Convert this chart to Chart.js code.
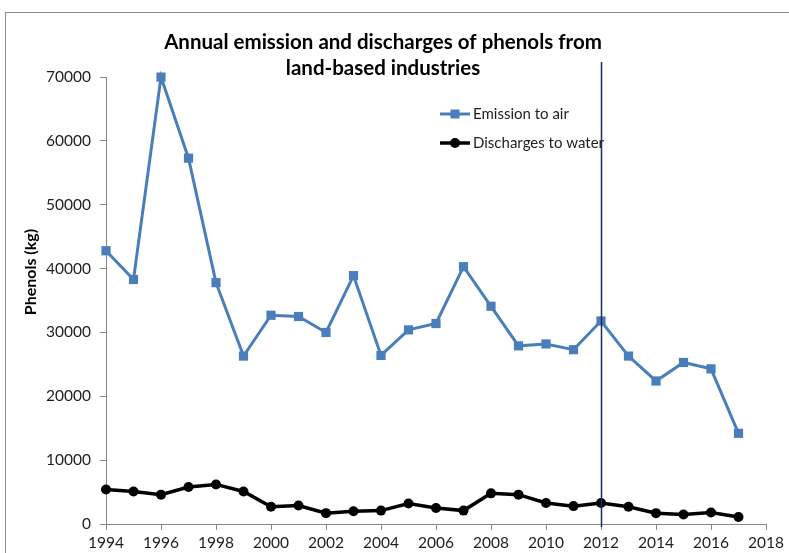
<!DOCTYPE html>
<html>
<head>
<meta charset="utf-8">
<title>Annual emission and discharges of phenols</title>
<script src="https://cdn.jsdelivr.net/npm/chart.js@4/dist/chart.umd.min.js"></script>
<style>
  html, body { margin: 0; padding: 0; background: #ffffff; overflow: hidden; }
  #frame {
    position: absolute; left: 5px; top: 12px; width: 900px; height: 700px;
    border: 1px solid #8c8c8c; box-sizing: border-box;
  }
  #wrap { position: absolute; left: 0; top: 0; width: 789px; height: 553px; }
</style>
</head>
<body>
<div id="frame"></div>
<div id="wrap"><canvas id="chart" width="789" height="553"></canvas></div>
<script>
// Years reported and yearly totals of phenols (kg)
const years = [1994, 1995, 1996, 1997, 1998, 1999, 2000, 2001, 2002, 2003, 2004, 2005,
               2006, 2007, 2008, 2009, 2010, 2011, 2012, 2013, 2014, 2015, 2016, 2017];
const emissionToAir = [42800, 38300, 70000, 57300, 37800, 26300, 32700, 32500, 30000, 38900, 26400, 30400,
                       31400, 40300, 34100, 27900, 28200, 27300, 31800, 26300, 22400, 25300, 24300, 14200];
const dischargesToWater = [5400, 5100, 4600, 5800, 6200, 5100, 2700, 2900, 1700, 2000, 2100, 3200,
                           2500, 2100, 4800, 4600, 3300, 2800, 3300, 2700, 1700, 1500, 1800, 1100];
const seriesNames = ['Emission to air', 'Discharges to water'];
const titleLines = ['Annual emission and discharges of phenols from', 'land-based industries'];
const yAxisTitle = 'Phenols (kg)';
const markerYear = 2012;

const FONT = 'Lato, "Open Sans", sans-serif';
const AXIS_GREY = '#868686';
const TEXT = '#1e1e1e';

function points(values) {
  return years.map((y, i) => ({ x: y, y: values[i] }));
}

// Vertical reference line at the marker year, plus the rotated y-axis caption
const overlay = {
  id: 'overlay',
  afterDatasetsDraw(chart) {
    const { ctx, chartArea, scales } = chart;
    const x = Math.round(scales.x.getPixelForValue(markerYear)) + 0.5;
    ctx.save();
    ctx.strokeStyle = '#1f2a66';
    ctx.lineWidth = 1.5;
    ctx.beginPath();
    ctx.moveTo(x, chartArea.top - 15);
    ctx.lineTo(x, chartArea.bottom + 3);
    ctx.stroke();
    ctx.restore();

    ctx.save();
    ctx.translate(31, chartArea.top + 195);
    ctx.rotate(-Math.PI / 2);
    ctx.font = 'bold 16px ' + FONT;
    ctx.fillStyle = '#000000';
    ctx.textAlign = 'center';
    ctx.textBaseline = 'middle';
    ctx.fillText(yAxisTitle, 0, 0);
    ctx.restore();
  }
};

// Line-with-marker legend placed inside the plot
const insideLegend = {
  id: 'insideLegend',
  afterDraw(chart) {
    const { ctx } = chart;
    const x0 = 440, x1 = 470, rowY = [114, 143];
    chart.data.datasets.forEach((ds, i) => {
      const y = rowY[i];
      ctx.save();
      ctx.strokeStyle = ds.borderColor;
      ctx.lineWidth = ds.borderWidth;
      ctx.beginPath();
      ctx.moveTo(x0, y);
      ctx.lineTo(x1, y);
      ctx.stroke();
      ctx.fillStyle = ds.pointBackgroundColor;
      const cx = (x0 + x1) / 2;
      if (ds.pointStyle === 'rect') {
        ctx.fillRect(cx - 4.5, y - 4.5, 9, 9);
      } else {
        ctx.beginPath();
        ctx.arc(cx, y, 5, 0, Math.PI * 2);
        ctx.fill();
      }
      ctx.font = '15px ' + FONT;
      ctx.fillStyle = TEXT;
      ctx.textAlign = 'left';
      ctx.textBaseline = 'middle';
      ctx.fillText(ds.label, x1 + 3, y);
      ctx.restore();
    });
  }
};

new Chart(document.getElementById('chart'), {
  type: 'line',
  data: {
    datasets: [
      {
        label: seriesNames[0],
        data: points(emissionToAir),
        borderColor: '#4a7ebb',
        backgroundColor: '#4a7ebb',
        pointBackgroundColor: '#4a7ebb',
        pointBorderColor: '#4a7ebb',
        pointBorderWidth: 0,
        borderWidth: 3,
        pointStyle: 'rect',
        pointRadius: 6.5,
        tension: 0,
        clip: false
      },
      {
        label: seriesNames[1],
        data: points(dischargesToWater),
        borderColor: '#000000',
        backgroundColor: '#000000',
        pointBackgroundColor: '#000000',
        pointBorderColor: '#000000',
        pointBorderWidth: 0,
        borderWidth: 3.5,
        pointStyle: 'circle',
        pointRadius: 5,
        tension: 0,
        clip: false
      }
    ]
  },
  options: {
    responsive: false,
    animation: false,
    events: [],
    layout: { padding: { left: 0, right: 23, top: 0, bottom: 0 } },
    plugins: {
      legend: { display: false },
      tooltip: { enabled: false },
      title: {
        display: true,
        text: titleLines,
        color: '#000000',
        font: { family: FONT, size: 20.5, weight: 'bold', lineHeight: 1.27 },
        padding: { top: 29, bottom: -4 }
      }
    },
    scales: {
      x: {
        type: 'linear',
        min: 1994,
        max: 2018,
        afterFit(scale) { scale.height = 29; },
        border: { display: true, color: AXIS_GREY, width: 1 },
        grid: { display: true, drawOnChartArea: false, drawTicks: true, tickLength: 6, color: AXIS_GREY },
        ticks: {
          stepSize: 2,
          padding: 4,
          color: TEXT,
          font: { family: FONT, size: 15.5 },
          maxRotation: 0,
          autoSkip: false,
          callback: (v) => String(v)
        }
      },
      y: {
        type: 'linear',
        min: 0,
        max: 70000,
        afterFit(scale) { scale.width = 106; },
        border: { display: true, color: AXIS_GREY, width: 1 },
        grid: { display: true, drawOnChartArea: false, drawTicks: true, tickLength: 6, color: AXIS_GREY },
        ticks: {
          stepSize: 10000,
          padding: 9,
          color: TEXT,
          font: { family: FONT, size: 15.5 },
          callback: (v) => String(v)
        }
      }
    }
  },
  plugins: [overlay, insideLegend]
});
</script>
</body>
</html>
